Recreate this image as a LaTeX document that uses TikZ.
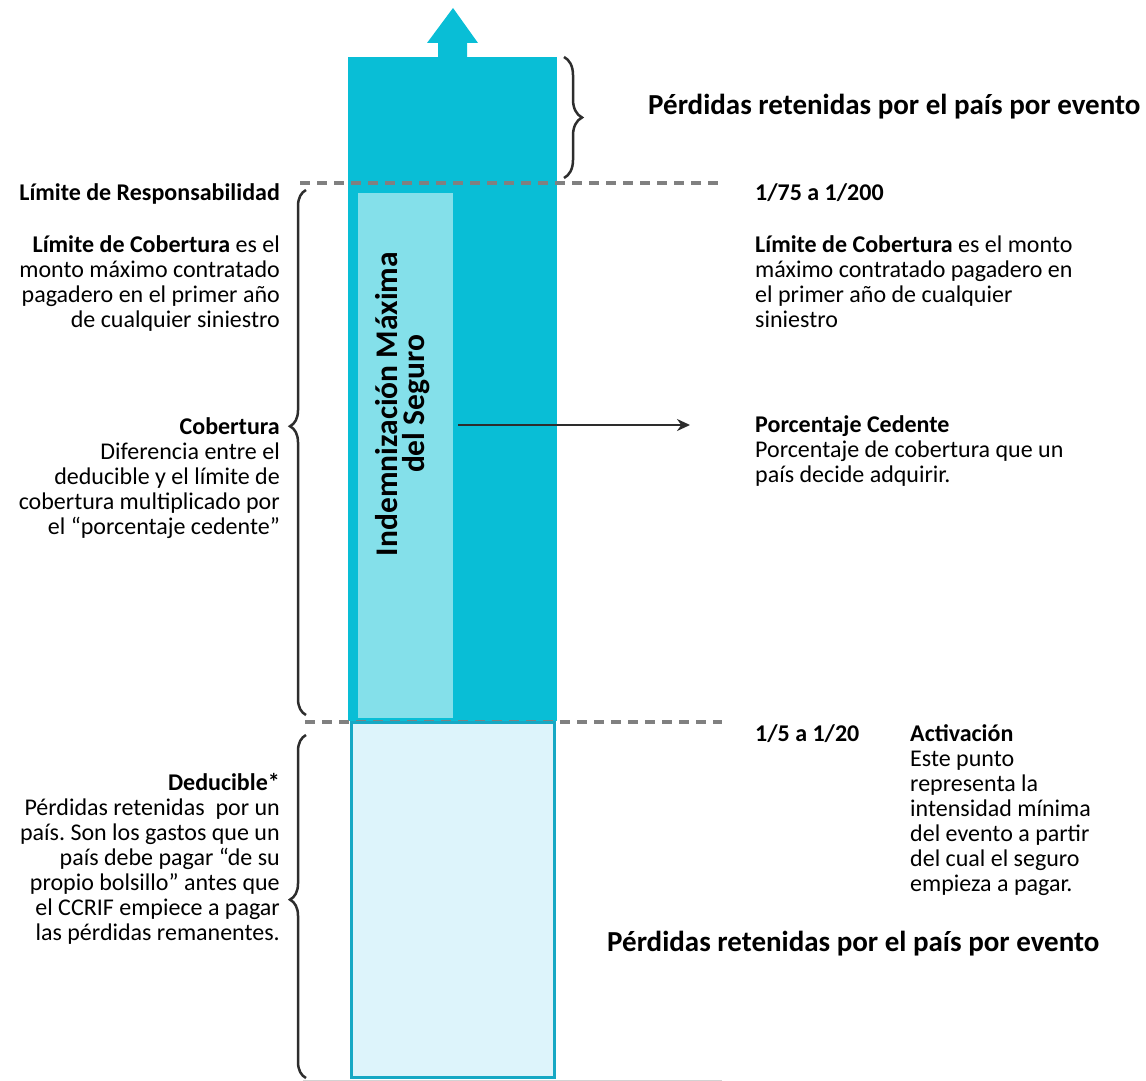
\documentclass[tikz,border=0pt]{standalone}
\usepackage{fontspec}
\setmainfont{Carlito}
\frenchspacing
\usetikzlibrary{arrows.meta,decorations.pathreplacing}
\definecolor{ccteal}{RGB}{9,190,214}
\definecolor{cclight}{RGB}{132,224,234}
\definecolor{ccpale}{RGB}{221,244,251}
\definecolor{ccedge}{RGB}{22,168,196}
\definecolor{ccdash}{RGB}{128,128,128}
\definecolor{ccink}{RGB}{45,45,45}

\begin{document}
\begin{tikzpicture}[x=1pt,y=-1pt,
    txt/.style={inner sep=0pt,font=\fontsize{24}{25}\selectfont},
    lft/.style={txt,anchor=base east,align=right},
    rgt/.style={txt,anchor=base west,align=left},
    big/.style={inner sep=0pt,anchor=base west,
      font=\fontsize{29}{30}\selectfont\bfseries},
    lvl/.style={ccdash,line width=3.5pt,dash pattern=on 10pt off 7pt},
    br/.style={decorate,ccink,line width=2.5pt,
      decoration={brace,amplitude=#1}},
    arw/.style={-{Stealth[length=13pt,width=12pt]},ccink,line width=2.2pt}]
  \useasboundingbox (0,0) rectangle (1146,1081);
  % column and top arrow
  \fill[ccteal] (348,57) rectangle (557,721);
  \fill[ccteal] (438,58) -- (438,43) -- (427,43) -- (453,8) -- (478,43)
    -- (467,43) -- (467,58) -- cycle;
  \fill[cclight] (358,193) rectangle (453,718);
  \draw[lvl] (300,183) -- (720,183);
  \draw[lvl] (305,722) -- (722,722);
  \draw[ccedge,fill=ccpale,line width=3pt] (351,722) rectangle (554,1077);
  \draw[gray!35,line width=1pt] (303,1080) -- (722,1080);
  \node[rotate=90,align=center,inner sep=0pt,
    font=\fontsize{31.5}{27}\selectfont\bfseries] (imax) at (403,404)
    {Indemnización Máxima\\del Seguro};
  % braces (multi-line texts sit on their last line)
  \draw[br=16,decoration={aspect=0.55}] (306,715) -- (306,190);
  \draw[br=16,decoration={aspect=0.52}] (306,1078) -- (306,735);
  \draw[br=18] (564,57) -- (564,178);
  % left texts
  \node[lft] (limresp) at (280,200) {\textbf{Límite de Responsabilidad}};
  \node[lft] (limcob) at (280,327) {\textbf{Límite de Cobertura} es el\\
    monto máximo contratado\\pagadero en el primer año\\de cualquier siniestro};
  \node[lft] (cober) at (280,534) {\textbf{Cobertura}\\Diferencia entre el\\
    deducible y el límite de\\cobertura multiplicado por\\el “porcentaje cedente”};
  \node[lft] (deduc) at (280,940) {\textbf{Deducible*}\\Pérdidas retenidas \ por un\\
    país. Son los gastos que un\\país debe pagar “de su\\
    propio bolsillo” antes que\\el CCRIF empiece a pagar\\las pérdidas remanentes.};
  % right texts
  \node[big] (pret) at (648,114) {Pérdidas retenidas por el país por evento};
  \node[rgt] (rpmax) at (755,200) {\textbf{1/75 a 1/200}};
  \node[rgt] (limcobr) at (755,327) {\textbf{Límite de Cobertura} es el monto\\
    máximo contratado pagadero en\\el primer año de cualquier\\siniestro};
  \node[rgt] (pced) at (755,482) {\textbf{Porcentaje Cedente}\\
    Porcentaje de cobertura que un\\país decide adquirir.};
  \node[rgt] (rpmin) at (755,741) {\textbf{1/5 a 1/20}};
  \node[rgt] (activ) at (910,891) {\textbf{Activación}\\Este punto\\representa la\\
    intensidad mínima\\del evento a partir\\del cual el seguro\\empieza a pagar.};
  \node[big] (pretb) at (607,951) {Pérdidas retenidas por el país por evento};
  % arrow to porcentaje cedente
  \coordinate (cedfrom) at (458,425);
  \coordinate (cedto) at (690,425);
  \draw[arw] (cedfrom) -- (cedto);
\end{tikzpicture}
\end{document}
